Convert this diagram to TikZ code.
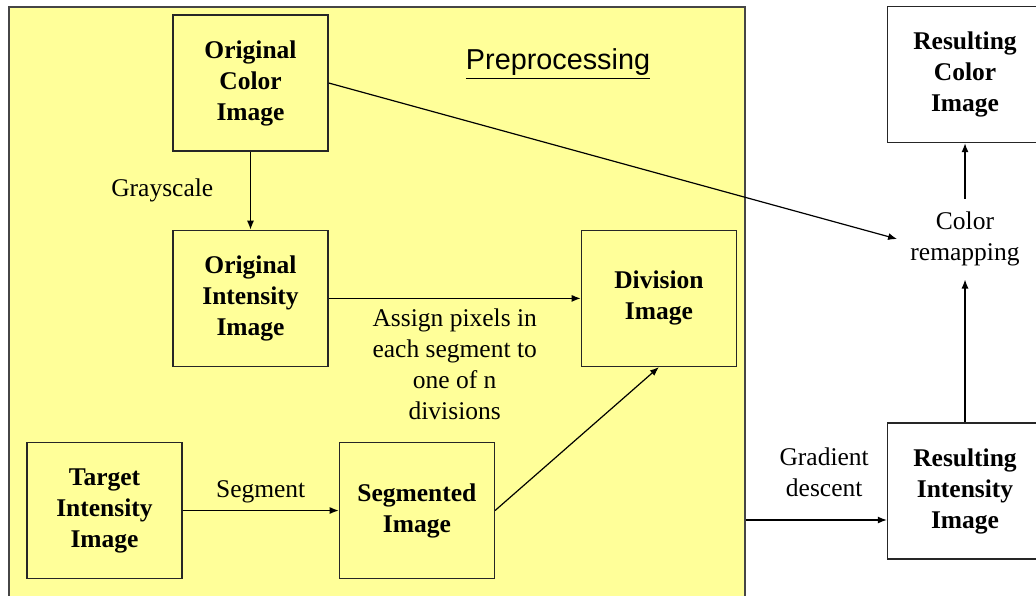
\documentclass[tikz,border=0pt]{standalone}
\usepackage{fontspec}
\setmainfont{Liberation Serif}
\newfontfamily\titlefont{Liberation Sans}
\usetikzlibrary{positioning,calc,arrows.meta}
\definecolor{mypale}{RGB}{255,255,153}
\definecolor{myframe}{RGB}{70,70,70}
\newcommand*\boxfont{\rmfamily\fontsize{12.75}{15.5}\selectfont}
\newcommand*\shiftgd{-14.5pt}
\tikzstyle{region}=[draw=myframe,fill=mypale,line width=0.75pt,minimum width=368pt,minimum height=302pt,anchor=north west]
\tikzstyle{imgbox}=[draw=black!85,line width=0.7pt,minimum width=77.5pt,minimum height=68pt,align=center,font=\boxfont\bfseries]
\tikzstyle{lbl}=[align=center,font=\boxfont]
\tikzstyle{arr}=[-{Latex[length=4.5pt,width=3.5pt]},line width=0.6pt]

\begin{document}
\begin{tikzpicture}
      \useasboundingbox (0,0) rectangle (518pt,-297.5pt);
      \node (P) [region] at (4pt,-3pt) {};
      \node (T) [font=\titlefont\fontsize{14.4}{17}\selectfont] at (279pt,-32pt) {\underline{Preprocessing}};
      \node (A) [imgbox] at (125.25pt,-41.5pt) {Original\\Color\\Image};
      \node (B) [imgbox, below=39pt of A] {Original\\Intensity\\Image};
      \node (C) [imgbox, right=126pt of B] {Division\\Image};
      \node (D) [imgbox] at (52.25pt,-255.25pt) {Target\\Intensity\\Image};
      \node (E) [imgbox, right=78pt of D] {Segmented\\Image};
      \node (F) [imgbox] at (482.5pt,-37.25pt) {Resulting\\Color\\Image};
      \node (G) [lbl, inner sep=6.5pt] at (482.5pt,-119.5pt) {Color\\remapping};
      \node (H) [imgbox] at (482.5pt,-245.5pt) {Resulting\\Intensity\\Image};
      \draw[arr] (A) -- node[lbl, midway, left=15pt] {Grayscale} (B);
      \draw[arr] (B) -- node[lbl, midway, below=1.5pt] {Assign pixels in\\each segment to\\one of n\\divisions} (C);
      \draw[arr] (D) -- node[lbl, midway, above] {Segment} (E);
      \draw[arr] (E.east) -- (C.south);
      \draw[arr] (A.east) -- (G.west);
      \draw[arr] (G) -- (F);
      \draw[arr] (H) -- (G);
      \draw[arr] ([yshift=\shiftgd]H.west -| P.east) -- node[lbl, midway, above=8pt, xshift=4pt] {Gradient\\descent} ([yshift=\shiftgd]H.west);
    \end{tikzpicture}
\end{document}
